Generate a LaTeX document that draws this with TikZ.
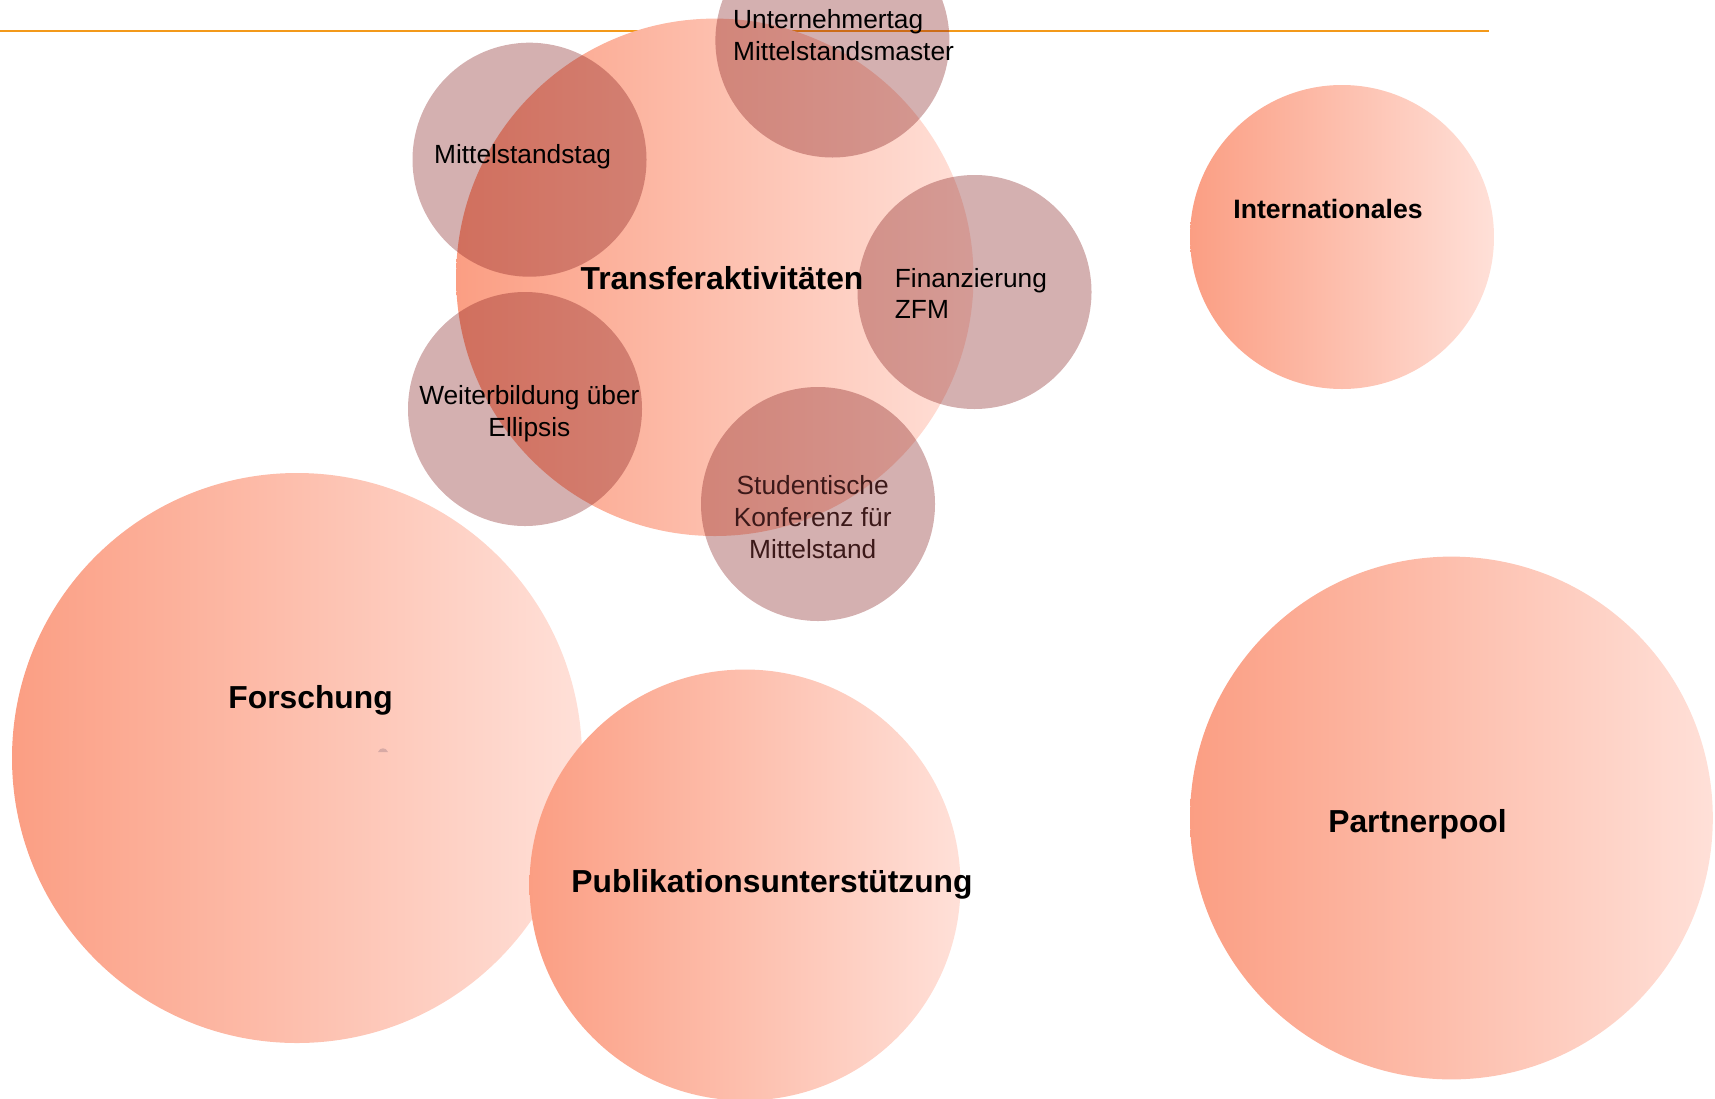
\documentclass[tikz,border=0pt]{standalone}
\usepackage{fontspec}
\setmainfont{Liberation Sans}
\definecolor{salL}{RGB}{251,158,131}
\definecolor{salR}{RGB}{255,224,216}
\definecolor{mauve}{RGB}{129,23,23}
\definecolor{lineor}{RGB}{243,153,26}
\definecolor{darktext}{RGB}{60,25,25}
\definecolor{smudge}{RGB}{215,170,165}
\begin{document}
\begin{tikzpicture}[x=1pt,y=-1pt,
  bigc/.style={circle,inner sep=0pt,minimum size=#1,left color=salL,right color=salR,draw=none},
  smallc/.style={circle,inner sep=0pt,minimum size=234pt,fill=mauve,fill opacity=0.34,draw=none},
  boldlbl/.style={inner sep=0pt,font=\fontsize{31.8}{38}\selectfont\bfseries},
  medlbl/.style={inner sep=0pt,font=\fontsize{26.6}{32}\selectfont\bfseries},
  reglbl/.style={inner sep=0pt,font=\fontsize{26.3}{31.7}\selectfont},
  topline/.style={draw=lineor,line width=2.8pt}
]
\useasboundingbox (0,0) rectangle (1715,1098);
\clip (0,0) rectangle (1715,1098);
% orange rule
\coordinate (lineA) at (0,31);
\coordinate (lineB) at (1489,31);
\draw[topline] (lineA) -- (lineB);
% big gradient circles
\node[bigc=517.4pt] (transfer) at (714.8,277.3) {};
\node[bigc=304pt] (intl) at (1342,237) {};
\node[bigc=570pt] (forsch) at (297,758) {};
\node[bigc=431pt] (publ) at (745,885) {};
\node[bigc=522.8pt] (partner) at (1451.4,818) {};
% small smudge inside Forschung
\fill[smudge] (378,752) .. controls (380,747) and (386,747) .. (388,752) -- cycle;
% small transparent circles
\node[smallc] (mtag) at (529.5,159.7) {};
\node[smallc] (utag) at (832.4,40.5) {};
\node[smallc] (fin) at (974.5,292) {};
\node[smallc] (weit) at (525,409) {};
\node[smallc] (stud) at (818,504) {};
% labels
\node[boldlbl] (tTransfer) at (722,278) {Transferaktivitäten};
\node[boldlbl] (tForsch) at (310.6,700.5) {Forschung};
\node[boldlbl] (tPubl) at (772,884) {Publikationsunterstützung};
\node[boldlbl] (tPartner) at (1417.5,824) {Partnerpool};
\node[medlbl] (tIntl) at (1328,209) {Internationales};
\node[reglbl] (tMtag) at (522.6,157) {Mittelstandstag};
\node[reglbl,anchor=west,align=left] (tUtag) at (733,35) {Unternehmertag\\Mittelstandsmaster};
\node[reglbl,anchor=west,align=left] (tFin) at (894.7,293.5) {Finanzierung\\ZFM};
\node[reglbl,align=center] (tWeit) at (529.4,414) {Weiterbildung über\\Ellipsis};
\node[reglbl,align=center,text=darktext] (tStud) at (812.7,517) {Studentische\\Konferenz für\\Mittelstand};
\end{tikzpicture}
\end{document}
